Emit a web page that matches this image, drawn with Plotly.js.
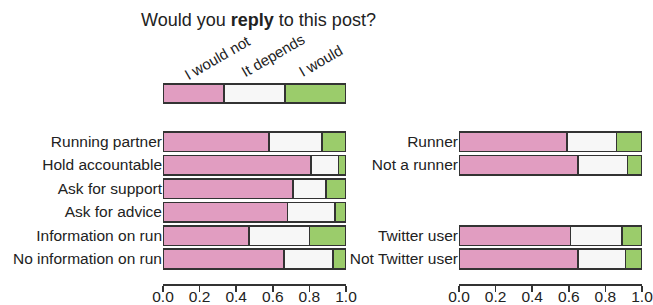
<!DOCTYPE html>
<html>
<head>
<meta charset="utf-8">
<script src="https://cdn.plot.ly/plotly-3.0.1.min.js"></script>
<style>html,body{margin:0;padding:0;background:#fff;}#chart{width:653px;height:305px;}</style>
</head>
<body>
<div id="chart"></div>
<script>
// Response categories (legend key)
const responseLabels = ["I would not", "It depends", "I would"];
const keyShares = [1/3, 1/3, 1/3];

// Left panel: post type
const leftCategories = ["Running partner", "Hold accountable", "Ask for support", "Ask for advice", "Information on run", "No information on run"];
const leftWouldNot = [0.58, 0.81, 0.71, 0.68, 0.47, 0.66];
const leftDepends  = [0.29, 0.15, 0.18, 0.26, 0.33, 0.27];
const leftWould    = [0.13, 0.04, 0.11, 0.06, 0.20, 0.07];

// Right panel: respondent groups
const rightCategories = ["Runner", "Not a runner", "Twitter user", "Not Twitter user"];
const rightSlots = ["Runner", "Not a runner", " ", "  ", "Twitter user", "Not Twitter user"];
const rightWouldNot = [0.59, 0.65, 0.61, 0.65];
const rightDepends  = [0.27, 0.27, 0.28, 0.26];
const rightWould    = [0.14, 0.08, 0.11, 0.09];

const xTicks = [0, 0.2, 0.4, 0.6, 0.8, 1.0];

const colors = ["#E19DC1", "#F7F7F7", "#9BCC6B"];
const edge = {color: "#333333", width: 1.5};
const FONT = "Liberation Sans, Arial, Helvetica, sans-serif";
const W = 653, H = 305;

function px(x) { return x / W; }
function py(y) { return 1 - y / H; }

const traces = [];
const leftSeries = [leftWouldNot, leftDepends, leftWould];
const rightSeries = [rightWouldNot, rightDepends, rightWould];
for (let i = 0; i < 3; i++) {
  traces.push({type: "bar", orientation: "h", y: leftCategories, x: leftSeries[i],
    xaxis: "x", yaxis: "y", width: 0.83, cliponaxis: false,
    marker: {color: colors[i], line: edge}, name: responseLabels[i], hoverinfo: "skip"});
  traces.push({type: "bar", orientation: "h", y: rightCategories, x: rightSeries[i],
    xaxis: "x2", yaxis: "y2", width: 0.83, cliponaxis: false,
    marker: {color: colors[i], line: edge}, name: responseLabels[i], hoverinfo: "skip"});
  traces.push({type: "bar", orientation: "h", y: ["key"], x: [keyShares[i]],
    xaxis: "x3", yaxis: "y3", width: 1, cliponaxis: false,
    marker: {color: colors[i], line: edge}, name: responseLabels[i], hoverinfo: "skip"});
}

const xBase = {
  range: [0, 1], showgrid: false, zeroline: false, showline: true,
  linecolor: "#333333", linewidth: 1.5, ticks: "outside", ticklen: 6, tickwidth: 1.5,
  tickcolor: "#333333", tickvals: xTicks, tickformat: ".1f", ticklabelstandoff: -8,
  ticklabeloverflow: "allow",
  tickfont: {family: FONT, size: 15.5, color: "#222"}, fixedrange: true
};
const mainY = [py(284), py(129.75)];
const yBase = {
  type: "category", range: [-1.064, 5.5], showgrid: false, zeroline: false,
  showline: false, ticks: "", tickfont: {family: FONT, size: 15.5, color: "#222"},
  autorange: false, fixedrange: true
};

const annotations = [
  {text: responseLabels[0], cx: 217.5, cy: 58},
  {text: responseLabels[1], cx: 272.5, cy: 55.5},
  {text: responseLabels[2], cx: 321, cy: 61}
].map(a => ({
  text: a.text, x: px(a.cx), y: py(a.cy), xref: "paper", yref: "paper",
  xanchor: "center", yanchor: "middle", showarrow: false, textangle: -30,
  font: {family: FONT, size: 15, color: "#222"}
}));

const layout = {
  width: W, height: H,
  margin: {l: 0, r: 0, t: 0, b: 0},
  paper_bgcolor: "#fff", plot_bgcolor: "#fff",
  barmode: "stack", showlegend: false, hovermode: false,
  title: {text: "Would you <b>reply</b> to this post?", x: px(258.5), xanchor: "center",
    y: py(19.5), yanchor: "middle", font: {family: FONT, size: 18, color: "#222"}},
  xaxis: Object.assign({}, xBase, {domain: [px(163), px(346)], anchor: "y"}),
  yaxis: Object.assign({}, yBase, {domain: mainY, anchor: "x",
    categoryorder: "array", categoryarray: leftCategories.slice().reverse()}),
  xaxis2: Object.assign({}, xBase, {domain: [px(459), px(642)], anchor: "y2"}),
  yaxis2: Object.assign({}, yBase, {domain: mainY, anchor: "x2",
    categoryorder: "array", categoryarray: rightSlots.slice().reverse()}),
  xaxis3: {domain: [px(163), px(346)], anchor: "y3", range: [0, 1], visible: false, fixedrange: true},
  yaxis3: {domain: [py(112.5), py(74.5)], anchor: "x3", type: "category", range: [-1, 1],
    visible: false, fixedrange: true},
  annotations: annotations
};

Plotly.newPlot("chart", traces, layout, {displayModeBar: false, staticPlot: true});
</script>
</body>
</html>
